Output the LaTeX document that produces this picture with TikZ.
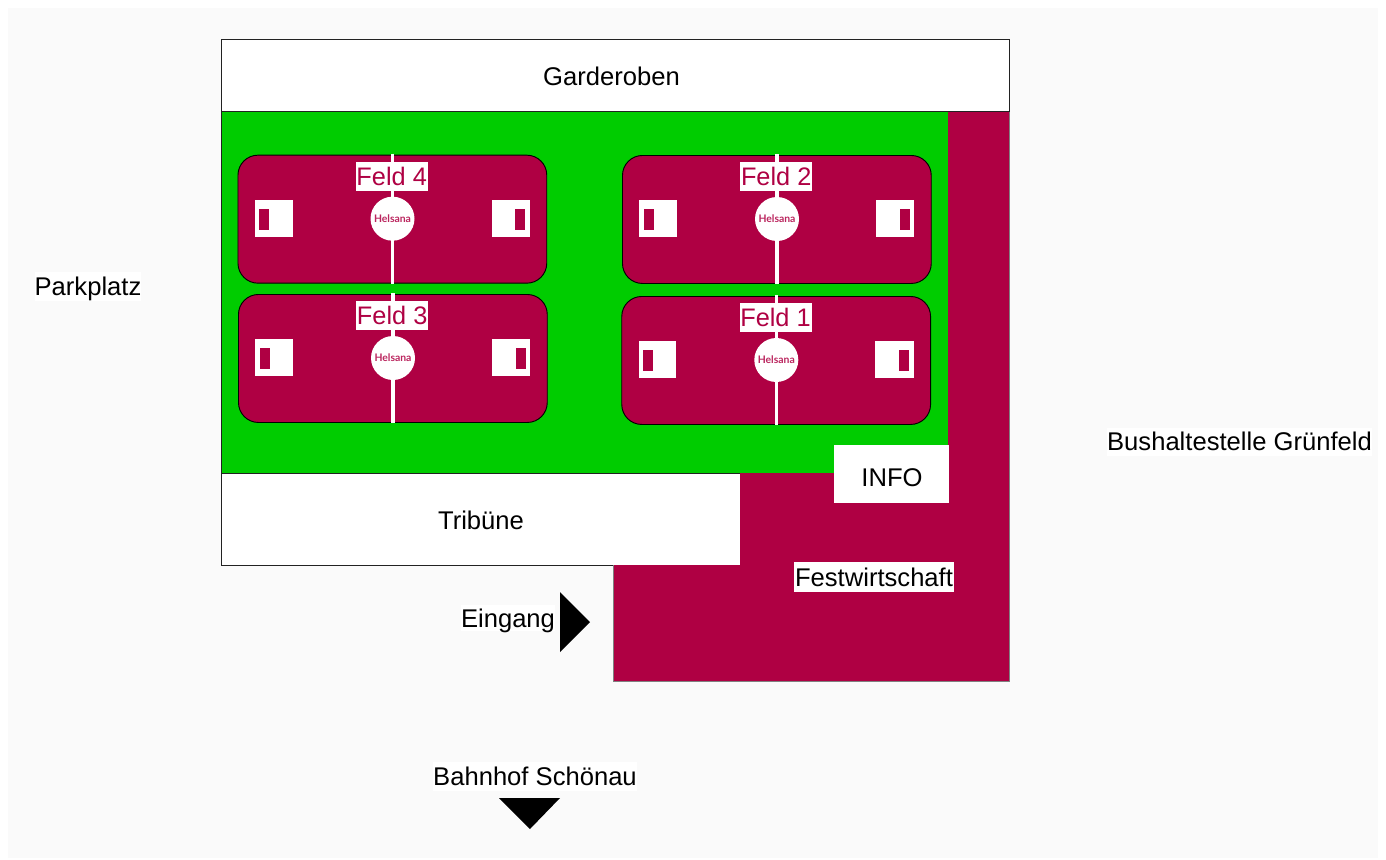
\documentclass[tikz,border=0pt]{standalone}
\usepackage{fontspec}
\setmainfont{Liberation Sans}
\newfontfamily\logofont{Lato}
\definecolor{maroon}{HTML}{AF0043}
\definecolor{turf}{HTML}{00CC00}
\definecolor{pagegrey}{HTML}{FAFAFA}
\definecolor{edge}{HTML}{222222}
\tikzset{
  x=0.75pt,y=-0.75pt,
  lbl/.style={font=\fontsize{19.2pt}{21pt}\selectfont,text=black,inner sep=0pt,text height=16.2pt,text depth=2.5pt},
  whitelbl/.style={lbl,fill=white,anchor=center},
  boxed/.style={draw=edge,line width=0.8pt,fill=white},
  court/.style={draw=black,line width=0.7pt,fill=maroon,rounded corners=15pt},
  goalbox/.style={fill=white},
  goalin/.style={fill=maroon},
  midline/.style={draw=white,line width=2.6pt},
  spot/.style={circle,fill=white,minimum size=33pt,inner sep=0pt,
    text=maroon!85!white,font=\logofont\bfseries\fontsize{7.8pt}{8pt}\selectfont},
  feldlbl/.style={fill=white,text=maroon,minimum width=54pt,minimum height=22pt,inner sep=0pt,
    font=\fontsize{19pt}{21pt}\selectfont,text height=16.2pt,text depth=2.5pt},
  pointer/.style={fill=black,draw=none}
}
% #1,#2 origin, #3 name, #4 label
\newcommand{\feldcourt}[4]{%
  \begin{scope}[shift={(#1,#2)}]
    \node[court,minimum width=231.6pt,minimum height=96pt,inner sep=0pt,anchor=north west] (#3) at (0,0) {};
    \fill[goalbox] (17.2,45) rectangle (55,82);
    \fill[goalin] (21.5,54) rectangle (31.5,75);
    \fill[goalbox] (254,45) rectangle (292.4,82);
    \fill[goalin] (277.8,54) rectangle (287.8,75);
    \coordinate (#3t) at (155,-1);
    \coordinate (#3b) at (155,129);
    \draw[midline] (#3t) -- (#3b);
    \node[spot] (#3s) at (155,64) {Helsana};
    \node[feldlbl] (#3l) at (154.2,21.5) {#4};
  \end{scope}}
\begin{document}
\begin{tikzpicture}
\useasboundingbox (0,0) rectangle (1386,860);
\fill[white] (0,0) rectangle (1386,860);
\fill[pagegrey] (8,8) rectangle (1378,858);
% grounds
\fill[turf] (221,111) rectangle (948,473);
\fill[maroon] (948,111) -- (1009,111) -- (1009,681) -- (613,681) -- (613,565) -- (740,565) -- (740,473) -- (948,473) -- cycle;
\draw[gray,line width=0.4pt] (1009,111) -- (1009,681) -- (613,681) -- (613,565);
\draw[edge,line width=0.7pt] (221,111) -- (221,473);
% boxes
\node[boxed,minimum width=591pt,minimum height=54pt,inner sep=0pt,anchor=north west] (gard) at (221,39) {};
\node[lbl] (gardl) at (611.5,76) {Garderoben};
\fill[white] (221,473) rectangle (740,565);
\draw[edge,line width=0.7pt] (740,473) -- (221,473) -- (221,565) -- (613,565);
\node[lbl] (trib) at (481,520) {Tribüne};
\fill[white] (834,445) rectangle (949,503);
\node[lbl] (info) at (892,477) {INFO};
\node[whitelbl,minimum width=119.5pt,minimum height=22.5pt] (fest) at (874,577) {Festwirtschaft};
% courts
\feldcourt{237.5}{154.7}{f4}{Feld 4}
\feldcourt{238}{294}{f3}{Feld 3}
\feldcourt{622}{155}{f2}{Feld 2}
\feldcourt{621.3}{296}{f1}{Feld 1}
% outside
\node[whitelbl,minimum width=79.5pt,minimum height=21.5pt] (park) at (88,286.5) {Parkplatz};
\node[whitelbl,minimum width=199pt,minimum height=21pt] (bus) at (1239.5,441.5) {Bushaltestelle Grünfeld};
\node[whitelbl,minimum width=70pt,minimum height=19pt] (ein) at (508,618) {Eingang};
\fill[pointer] (560,592) -- (590,622) -- (560,652) -- cycle;
\node[whitelbl,minimum width=153pt,minimum height=22pt] (bhf) at (535,776.5) {Bahnhof Schönau};
\fill[pointer] (499,798) -- (560,798) -- (530,829) -- cycle;
\end{tikzpicture}
\end{document}
